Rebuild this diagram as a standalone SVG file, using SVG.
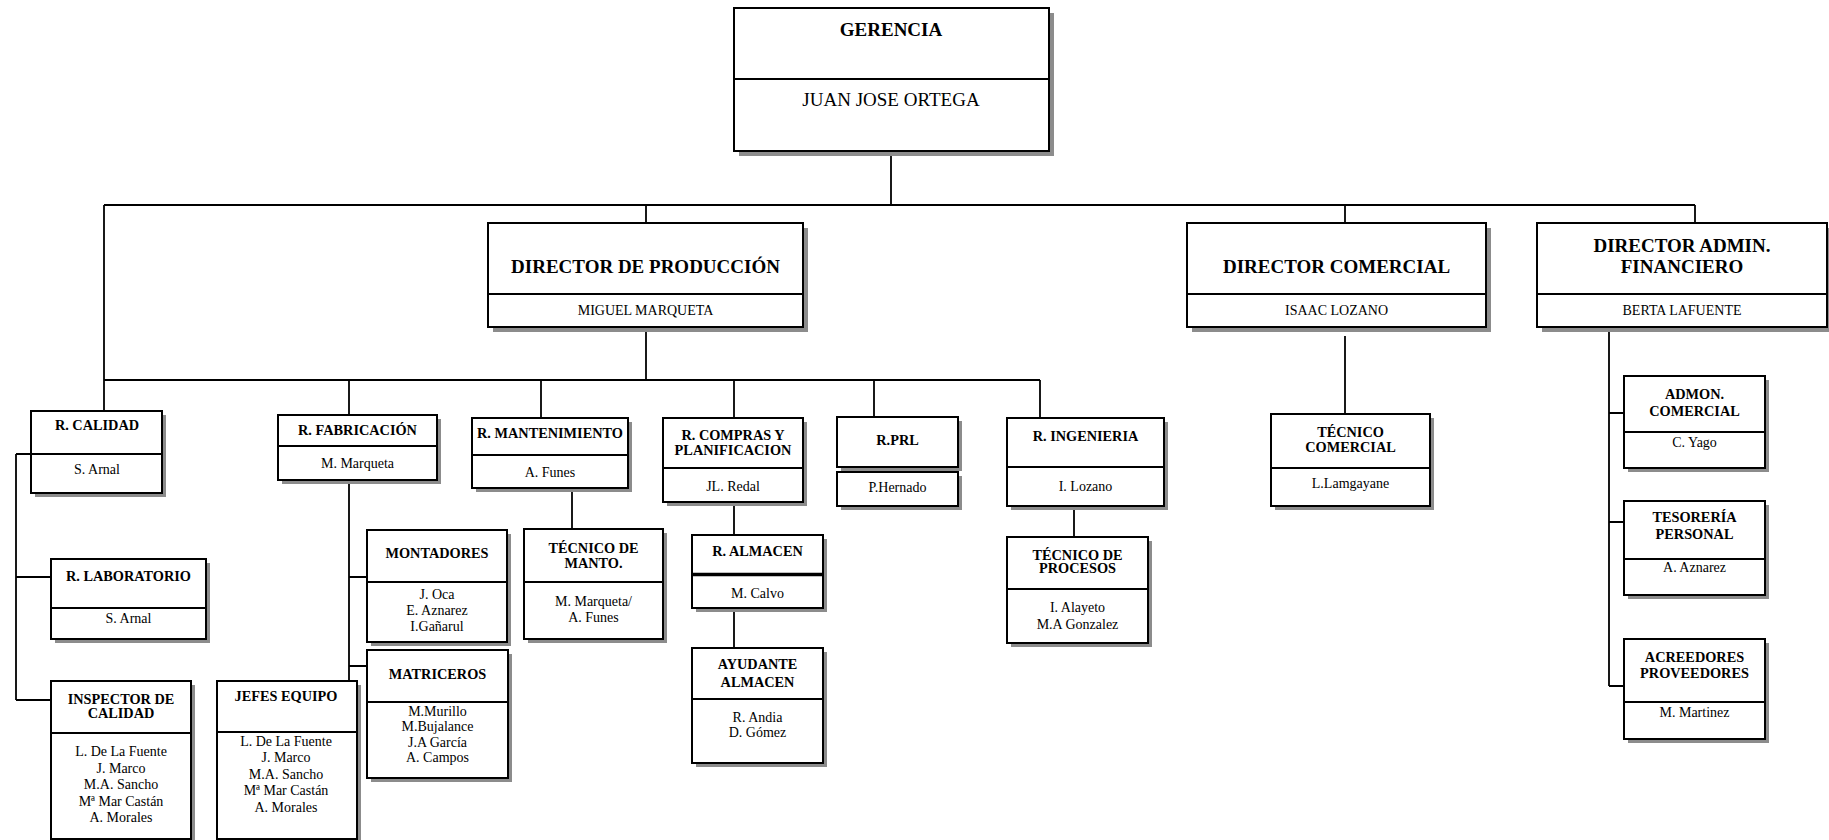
<svg xmlns="http://www.w3.org/2000/svg" width="1829" height="840" viewBox="0 0 1829 840">
<style>
.sh{fill:#8c8c8c}
.bx{fill:#fff;stroke:#000;stroke-width:2}
.dv{stroke:#000;stroke-width:2}
.conn path{stroke:#000;stroke-width:1.8;fill:none}
.T{font-family:"Liberation Serif",serif;font-weight:bold;font-size:19px;text-anchor:middle}
.N{font-family:"Liberation Serif",serif;font-size:19px;text-anchor:middle}
.M{font-family:"Liberation Serif",serif;font-size:14px;text-anchor:middle}
.t{font-family:"Liberation Serif",serif;font-weight:bold;font-size:14.3px;text-anchor:middle}
.n{font-family:"Liberation Serif",serif;font-size:14px;text-anchor:middle}
</style>
<rect width="1829" height="840" fill="#fff"/>
<g class="conn">
<path d="M891,151V205"/>
<path d="M104,205H1695"/>
<path d="M104,205V411"/>
<path d="M646,205V223"/>
<path d="M1345,205V223"/>
<path d="M1695,205V223"/>
<path d="M646,327V380"/>
<path d="M104,380H1040"/>
<path d="M349,380V415"/>
<path d="M541,380V418"/>
<path d="M734,380V418"/>
<path d="M874,380V417"/>
<path d="M1040,380V418"/>
<path d="M16,454H31M16,454V700M16,577H51M16,700H51"/>
<path d="M349,480V681M349,577H367M349,666H367"/>
<path d="M572,488V529"/>
<path d="M734,502V535M734,608V648"/>
<path d="M1074,506V537"/>
<path d="M1345,336V414"/>
<path d="M1609,327V686M1609,413H1624M1609,522H1624M1609,686H1624"/>
</g>
<g id="gerencia">
<rect class="sh" x="739" y="13" width="315" height="143"/>
<rect class="bx" x="734" y="8" width="315" height="143"/>
<line class="dv" x1="734" y1="79" x2="1049" y2="79"/>
<text class="T" x="891" y="36">GERENCIA</text>
<text class="N" x="891" y="106">JUAN JOSE ORTEGA</text>
</g>
<g id="dir-produccion">
<rect class="sh" x="493" y="228" width="315" height="104"/>
<rect class="bx" x="488" y="223" width="315" height="104"/>
<line class="dv" x1="488" y1="294" x2="803" y2="294"/>
<text class="T" x="645.5" y="273">DIRECTOR DE PRODUCCIÓN</text>
<text class="M" x="645.5" y="315">MIGUEL MARQUETA</text>
</g>
<g id="dir-comercial">
<rect class="sh" x="1192" y="228" width="299" height="104"/>
<rect class="bx" x="1187" y="223" width="299" height="104"/>
<line class="dv" x1="1187" y1="294" x2="1486" y2="294"/>
<text class="T" x="1336.5" y="273">DIRECTOR COMERCIAL</text>
<text class="M" x="1336.5" y="315">ISAAC LOZANO</text>
</g>
<g id="dir-admin">
<rect class="sh" x="1542" y="228" width="290" height="104"/>
<rect class="bx" x="1537" y="223" width="290" height="104"/>
<line class="dv" x1="1537" y1="294" x2="1827" y2="294"/>
<text class="T" x="1682" y="252">DIRECTOR ADMIN.</text>
<text class="T" x="1682" y="273">FINANCIERO</text>
<text class="M" x="1682" y="315">BERTA LAFUENTE</text>
</g>
<g id="r-calidad">
<rect class="sh" x="35" y="415" width="131" height="82"/>
<rect class="bx" x="31" y="411" width="131" height="82"/>
<line class="dv" x1="31" y1="454" x2="162" y2="454"/>
<text class="t" x="97" y="430">R. CALIDAD</text>
<text class="n" x="97" y="474">S. Arnal</text>
</g>
<g id="r-laboratorio">
<rect class="sh" x="55" y="563" width="155" height="80"/>
<rect class="bx" x="51" y="559" width="155" height="80"/>
<line class="dv" x1="51" y1="608" x2="206" y2="608"/>
<text class="t" x="128.5" y="581">R. LABORATORIO</text>
<text class="n" x="128.5" y="623">S. Arnal</text>
</g>
<g id="inspector-calidad">
<rect class="sh" x="55" y="685" width="140" height="158"/>
<rect class="bx" x="51" y="681" width="140" height="158"/>
<line class="dv" x1="51" y1="733" x2="191" y2="733"/>
<text class="t" x="121" y="704">INSPECTOR DE</text>
<text class="t" x="121" y="718">CALIDAD</text>
<text class="n" x="121" y="756">L. De La Fuente</text>
<text class="n" x="121" y="773">J. Marco</text>
<text class="n" x="121" y="789">M.A. Sancho</text>
<text class="n" x="121" y="806">Mª Mar Castán</text>
<text class="n" x="121" y="822">A. Morales</text>
</g>
<g id="r-fabricacion">
<rect class="sh" x="282" y="419" width="159" height="65"/>
<rect class="bx" x="278" y="415" width="159" height="65"/>
<line class="dv" x1="278" y1="446" x2="437" y2="446"/>
<text class="t" x="357.5" y="435">R. FABRICACIÓN</text>
<text class="n" x="357.5" y="468">M. Marqueta</text>
</g>
<g id="jefes-equipo">
<rect class="sh" x="221" y="685" width="140" height="158"/>
<rect class="bx" x="217" y="681" width="140" height="158"/>
<line class="dv" x1="217" y1="732" x2="357" y2="732"/>
<text class="t" x="286" y="701">JEFES EQUIPO</text>
<text class="n" x="286" y="746">L. De La Fuente</text>
<text class="n" x="286" y="762">J. Marco</text>
<text class="n" x="286" y="779">M.A. Sancho</text>
<text class="n" x="286" y="795">Mª Mar Castán</text>
<text class="n" x="286" y="812">A. Morales</text>
</g>
<g id="montadores">
<rect class="sh" x="371" y="534" width="140" height="112"/>
<rect class="bx" x="367" y="530" width="140" height="112"/>
<line class="dv" x1="367" y1="582" x2="507" y2="582"/>
<text class="t" x="437" y="558">MONTADORES</text>
<text class="n" x="437" y="599">J. Oca</text>
<text class="n" x="437" y="615">E. Aznarez</text>
<text class="n" x="437" y="631">I.Gañarul</text>
</g>
<g id="matriceros">
<rect class="sh" x="371" y="654" width="141" height="128"/>
<rect class="bx" x="367" y="650" width="141" height="128"/>
<line class="dv" x1="367" y1="702" x2="508" y2="702"/>
<text class="t" x="437.5" y="679">MATRICEROS</text>
<text class="n" x="437.5" y="716">M.Murillo</text>
<text class="n" x="437.5" y="731">M.Bujalance</text>
<text class="n" x="437.5" y="747">J.A García</text>
<text class="n" x="437.5" y="762">A. Campos</text>
</g>
<g id="r-mantenimiento">
<rect class="sh" x="476" y="422" width="156" height="70"/>
<rect class="bx" x="472" y="418" width="156" height="70"/>
<line class="dv" x1="472" y1="455" x2="628" y2="455"/>
<text class="t" x="550" y="438">R. MANTENIMIENTO</text>
<text class="n" x="550" y="477">A. Funes</text>
</g>
<g id="tecnico-manto">
<rect class="sh" x="528" y="533" width="139" height="110"/>
<rect class="bx" x="524" y="529" width="139" height="110"/>
<line class="dv" x1="524" y1="582" x2="663" y2="582"/>
<text class="t" x="593.5" y="553">TÉCNICO DE</text>
<text class="t" x="593.5" y="568">MANTO.</text>
<text class="n" x="593.5" y="606">M. Marqueta/</text>
<text class="n" x="593.5" y="622">A. Funes</text>
</g>
<g id="r-compras">
<rect class="sh" x="667" y="422" width="140" height="84"/>
<rect class="bx" x="663" y="418" width="140" height="84"/>
<line class="dv" x1="663" y1="468" x2="803" y2="468"/>
<text class="t" x="733" y="440">R. COMPRAS Y</text>
<text class="t" x="733" y="455">PLANIFICACION</text>
<text class="n" x="733" y="491">JL. Redal</text>
</g>
<g id="r-almacen">
<rect class="sh" x="696" y="539" width="131" height="73"/>
<rect class="bx" x="692" y="535" width="131" height="73"/>
<line x1="692" y1="574.5" x2="823" y2="574.5" stroke="#000" stroke-width="3.5"/>
<text class="t" x="757.5" y="556">R. ALMACEN</text>
<text class="n" x="757.5" y="598">M. Calvo</text>
</g>
<g id="ayudante-almacen">
<rect class="sh" x="696" y="652" width="131" height="115"/>
<rect class="bx" x="692" y="648" width="131" height="115"/>
<line class="dv" x1="692" y1="699" x2="823" y2="699"/>
<text class="t" x="757.5" y="669">AYUDANTE</text>
<text class="t" x="757.5" y="687">ALMACEN</text>
<text class="n" x="757.5" y="722">R. Andia</text>
<text class="n" x="757.5" y="737">D. Gómez</text>
</g>
<g id="r-prl">
<rect class="sh" x="841" y="421" width="121" height="50"/>
<rect class="bx" x="837" y="417" width="121" height="50"/>
<rect class="sh" x="841" y="476" width="121" height="34"/>
<rect class="bx" x="837" y="472" width="121" height="34"/>
<text class="t" x="897.5" y="445">R.PRL</text>
<text class="n" x="897.5" y="492">P.Hernado</text>
</g>
<g id="r-ingenieria">
<rect class="sh" x="1011" y="422" width="157" height="88"/>
<rect class="bx" x="1007" y="418" width="157" height="88"/>
<line class="dv" x1="1007" y1="467" x2="1164" y2="467"/>
<text class="t" x="1085.5" y="441">R. INGENIERIA</text>
<text class="n" x="1085.5" y="491">I. Lozano</text>
</g>
<g id="tecnico-procesos">
<rect class="sh" x="1011" y="541" width="141" height="106"/>
<rect class="bx" x="1007" y="537" width="141" height="106"/>
<line class="dv" x1="1007" y1="589" x2="1148" y2="589"/>
<text class="t" x="1077.5" y="560">TÉCNICO DE</text>
<text class="t" x="1077.5" y="573">PROCESOS</text>
<text class="n" x="1077.5" y="612">I. Alayeto</text>
<text class="n" x="1077.5" y="629">M.A Gonzalez</text>
</g>
<g id="tecnico-comercial">
<rect class="sh" x="1275" y="418" width="159" height="92"/>
<rect class="bx" x="1271" y="414" width="159" height="92"/>
<line class="dv" x1="1271" y1="468" x2="1430" y2="468"/>
<text class="t" x="1350.5" y="437">TÉCNICO</text>
<text class="t" x="1350.5" y="452">COMERCIAL</text>
<text class="n" x="1350.5" y="488">L.Lamgayane</text>
</g>
<g id="admon-comercial">
<rect class="sh" x="1628" y="380" width="141" height="92"/>
<rect class="bx" x="1624" y="376" width="141" height="92"/>
<line class="dv" x1="1624" y1="432" x2="1765" y2="432"/>
<text class="t" x="1694.5" y="399">ADMON.</text>
<text class="t" x="1694.5" y="416">COMERCIAL</text>
<text class="n" x="1694.5" y="447">C. Yago</text>
</g>
<g id="tesoreria-personal">
<rect class="sh" x="1628" y="505" width="141" height="94"/>
<rect class="bx" x="1624" y="501" width="141" height="94"/>
<line class="dv" x1="1624" y1="559" x2="1765" y2="559"/>
<text class="t" x="1694.5" y="522">TESORERÍA</text>
<text class="t" x="1694.5" y="539">PERSONAL</text>
<text class="n" x="1694.5" y="572">A. Aznarez</text>
</g>
<g id="acreedores-proveedores">
<rect class="sh" x="1628" y="643" width="141" height="100"/>
<rect class="bx" x="1624" y="639" width="141" height="100"/>
<line class="dv" x1="1624" y1="702" x2="1765" y2="702"/>
<text class="t" x="1694.5" y="662">ACREEDORES</text>
<text class="t" x="1694.5" y="678">PROVEEDORES</text>
<text class="n" x="1694.5" y="717">M. Martinez</text>
</g>
</svg>
